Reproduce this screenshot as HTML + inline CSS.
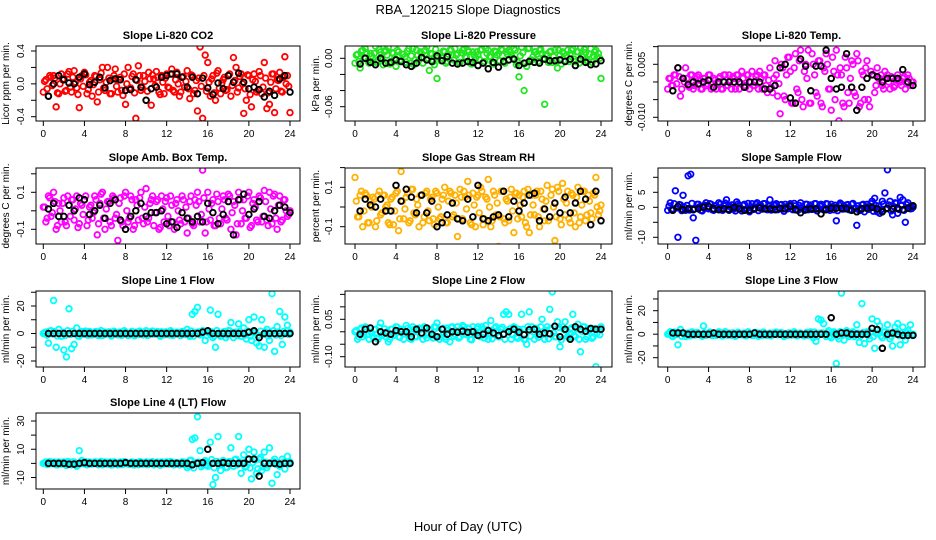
<!DOCTYPE html>
<html><head><meta charset="utf-8"><style>
html,body{margin:0;padding:0;background:#fff;}
svg{display:block;font-family:"Liberation Sans",sans-serif;}
</style></head><body>
<svg id="chart" width="936" height="540" viewBox="0 0 936 540">
<text x="468" y="14" text-anchor="middle" font-size="13">RBA_120215  Slope Diagnostics</text>
<text x="468" y="531" text-anchor="middle" font-size="13">Hour of Day (UTC)</text>
</svg>
<script>
const hoursColored=[0,0.25,0.5,0.75,1,1.25,1.5,1.75,2,2.25,2.5,2.75,3,3.25,3.5,3.75,4,4.25,4.5,4.75,5,5.25,5.5,5.75,6,6.25,6.5,6.75,7,7.25,7.5,7.75,8,8.25,8.5,8.75,9,9.25,9.5,9.75,10,10.25,10.5,10.75,11,11.25,11.5,11.75,12,12.25,12.5,12.75,13,13.25,13.5,13.75,14,14.25,14.5,14.75,15,15.25,15.5,15.75,16,16.25,16.5,16.75,17,17.25,17.5,17.75,18,18.25,18.5,18.75,19,19.25,19.5,19.75,20,20.25,20.5,20.75,21,21.25,21.5,21.75,22,22.25,22.5,22.75,23,23.25,23.5,23.75,24];
const hoursColoredB=[0.125,0.375,0.625,0.875,1.125,1.375,1.625,1.875,2.125,2.375,2.625,2.875,3.125,3.375,3.625,3.875,4.125,4.375,4.625,4.875,5.125,5.375,5.625,5.875,6.125,6.375,6.625,6.875,7.125,7.375,7.625,7.875,8.125,8.375,8.625,8.875,9.125,9.375,9.625,9.875,10.125,10.375,10.625,10.875,11.125,11.375,11.625,11.875,12.125,12.375,12.625,12.875,13.125,13.375,13.625,13.875,14.125,14.375,14.625,14.875,15.125,15.375,15.625,15.875,16.125,16.375,16.625,16.875,17.125,17.375,17.625,17.875,18.125,18.375,18.625,18.875,19.125,19.375,19.625,19.875,20.125,20.375,20.625,20.875,21.125,21.375,21.625,21.875,22.125,22.375,22.625,22.875,23.125,23.375,23.625,23.875];
const hoursBlack=[0.5,1,1.5,2,2.5,3,3.5,4,4.5,5,5.5,6,6.5,7,7.5,8,8.5,9,9.5,10,10.5,11,11.5,12,12.5,13,13.5,14,14.5,15,15.5,16,16.5,17,17.5,18,18.5,19,19.5,20,20.5,21,21.5,22,22.5,23,23.5,24];
const xTicks=[0,4,8,12,16,20,24];

const co2Vals=[-0.1,0.05,-0.15,0.08,0.1,-0.28,-0.12,0.12,0.06,-0.08,0.15,-0.1,0.16,-0.05,-0.29,0.1,0.14,-0.12,0.02,-0.15,0.1,-0.22,0.05,0.2,-0.08,0.2,-0.12,0.06,0.18,-0.1,0.08,-0.14,-0.25,0.2,-0.05,0.12,-0.42,0.22,-0.08,0.1,-0.2,0.14,-0.26,0.06,0.15,-0.1,0.1,-0.12,0.12,-0.05,0.18,-0.1,0.14,-0.15,0.08,-0.04,0.16,-0.18,0.1,-0.08,-0.33,0.45,-0.42,0.35,0.26,-0.15,0.1,-0.2,0.16,-0.12,0.05,-0.08,0.1,-0.15,0.32,0.2,-0.05,0.12,-0.36,-0.2,0.1,-0.28,0.12,-0.1,0.15,-0.12,0.26,-0.3,-0.25,0.12,-0.35,0.05,0.14,-0.1,0.33,0.1,-0.35];
const co2ValsB=[0.03,-0.06,0.1,-0.02,0.07,-0.11,0.0,0.05,-0.09,0.12,-0.04,0.08,0.02,-0.13,0.06,-0.03,0.11,-0.07,0.04,-0.01,0.09,-0.1,0.13,-0.05,0.02,0.07,-0.12,0.1,-0.03,0.05,-0.08,0.12,0.0,-0.06,0.09,-0.11,0.04,0.1,-0.05,0.03,-0.09,0.06,0.11,-0.02,0.08,-0.13,0.02,0.07,-0.04,0.12,-0.08,0.05,0.0,-0.1,0.09,0.03,-0.06,0.11,-0.12,0.04,0.07,-0.03,0.1,-0.09,0.02,0.06,-0.11,0.13,-0.05,0.01,0.08,-0.07,0.12,-0.02,0.04,-0.1,0.09,0.0,-0.06,0.11,-0.13,0.05,0.03,-0.08,0.1,-0.04,0.07,-0.11,0.02,0.12,-0.06,0.04,-0.09,0.08,0.0,-0.03];
const co2Black=[-0.15,0,0.1,0.05,0.01,0,0.08,0.12,-0.01,0.02,0.08,-0.05,0.04,0.06,0.05,-0.08,-0.07,0.05,-0.04,-0.2,-0.06,-0.04,0.08,0.1,0.12,0.12,0.08,-0.04,0.08,-0.12,0.07,-0.05,-0.13,0.01,-0.06,0.1,0.02,0.13,0.02,-0.06,-0.04,-0.07,-0.16,-0.09,-0.14,0.06,0.1,-0.1];

const presVals=[-0.006,0.005,-0.012,0.01,0.012,-0.003,0.006,-0.005,0.015,-0.002,0.008,-0.008,0.01,0.014,-0.004,0.006,-0.01,0.008,-0.002,0.005,-0.005,0.012,0.003,-0.008,0.01,-0.002,0.006,0.009,0.014,-0.015,0.005,-0.008,-0.025,0.006,0,0.008,-0.004,0.01,0.004,0.012,0.006,-0.005,0.01,0.002,0.01,-0.006,0.008,0,0.004,0.01,-0.005,0.012,0.01,0.002,-0.007,0.008,0.006,0.011,-0.003,0.008,0.01,0.004,0.012,-0.008,-0.023,0.014,-0.04,-0.01,0.013,-0.002,0.008,0.005,0.01,0.006,-0.057,0.003,0.008,-0.005,0.01,-0.012,0.004,0.008,-0.003,0.01,0.006,0.012,-0.004,0.008,0.013,0.002,0.007,-0.004,0.012,0.003,0.01,0.006,-0.025];
const presValsB=[0.004,-0.004,0.009,0.001,0.007,-0.006,0.003,0.006,-0.005,0.011,-0.002,0.008,0.004,-0.007,0.007,0.0,0.01,-0.004,0.005,0.002,0.009,-0.006,0.012,-0.002,0.004,0.008,-0.006,0.01,0.0,0.006,-0.004,0.011,0.003,-0.003,0.009,-0.006,0.005,0.01,-0.002,0.004,-0.005,0.007,0.011,0.001,0.008,-0.007,0.004,0.008,-0.001,0.011,-0.004,0.006,0.002,-0.005,0.009,0.004,-0.003,0.01,-0.006,0.005,0.008,0.0,0.01,-0.005,0.003,0.007,-0.006,0.012,-0.002,0.002,0.008,-0.004,0.011,0.0,0.005,-0.005,0.009,0.002,-0.003,0.01,-0.007,0.006,0.004,-0.004,0.01,-0.001,0.008,-0.006,0.003,0.011,-0.003,0.005,-0.005,0.008,0.002,0.0];
const presBlack=[-0.007,0,-0.005,-0.008,0,-0.006,-0.005,-0.002,-0.004,-0.008,-0.01,-0.006,0.001,-0.002,-0.004,0.003,-0.003,0.002,-0.006,-0.007,-0.006,-0.004,-0.005,-0.009,-0.006,-0.013,-0.005,-0.011,-0.004,-0.002,-0.001,-0.009,-0.006,-0.004,-0.005,-0.006,-0.001,-0.003,-0.003,-0.002,-0.004,-0.001,-0.009,-0.001,-0.005,-0.008,-0.007,-0.003];

const tempVals=[-0.002,0.001,-0.001,0.002,0.004,-0.004,0.001,0.004,-0.001,0.002,-0.002,0.001,0.002,-0.002,0.001,-0.001,0.002,-0.002,0.001,-0.002,0.001,-0.002,0.002,-0.001,0.002,-0.002,0.001,0.002,-0.002,0.003,-0.001,0.002,-0.002,0.003,-0.001,0.002,0.003,-0.002,0.002,-0.003,0.004,-0.003,0.006,-0.004,-0.009,0.004,-0.005,0.007,0.003,-0.006,0.008,-0.003,0.009,-0.007,0.005,0.009,-0.006,0.005,-0.003,0.006,-0.006,0.004,0.008,-0.002,-0.008,0.003,0.009,-0.011,0.002,-0.007,0.004,-0.006,0.006,-0.003,0.008,-0.007,0.003,-0.005,0.006,-0.007,0.002,-0.003,0.004,0.001,-0.001,0.003,0.002,-0.002,0.001,-0.001,0.002,0,0.001,-0.002,0.002,-0.001,0];
const tempValsB=[0.001,-0.001,0.002,-0.0005,0.0015,-0.002,0.0,0.001,-0.0015,0.002,-0.001,0.0015,0.0005,-0.002,0.001,-0.0005,0.002,-0.0015,0.0005,0.0,0.0015,-0.002,0.002,-0.001,0.0005,0.0015,-0.002,0.002,-0.0005,0.001,-0.0015,0.002,0.0,-0.001,0.0015,-0.002,0.001,0.002,-0.001,0.0005,-0.0015,0.001,0.002,-0.0005,0.005,-0.004,0.002,0.007,-0.006,0.004,-0.002,0.006,-0.005,0.003,0.001,-0.006,0.008,0.002,-0.004,0.006,-0.007,0.003,0.005,-0.002,0.007,-0.005,0.002,0.004,-0.006,0.007,-0.003,0.001,0.005,-0.004,0.006,-0.006,0.002,0.004,-0.005,0.003,0.002,-0.001,0.001,0.002,-0.002,0.001,0.0,0.0015,-0.0015,0.001,0.0005,-0.001,0.0015,-0.0005,0.001,0.0];
const tempBlack=[-0.0025,0.004,0.001,-0.0007,0,-0.0005,0,0.0005,-0.0015,0,0,0,0,0,-0.0015,0,0,0,-0.002,-0.002,-0.001,0.004,0.005,-0.0045,-0.006,0.0065,0.0045,-0.0025,0.0045,0.0045,0.009,0.001,-0.002,-0.0015,0.008,-0.0015,-0.008,-0.0015,0.001,0.002,0.0015,0,0.001,0.001,0.001,0.0035,0,-0.001];

const boxVals=[0.02,-0.06,0.08,-0.03,0.1,-0.1,0.04,-0.06,0.07,-0.08,0.03,0.06,-0.05,0.08,-0.07,0.03,0.06,-0.08,0.02,-0.04,0.08,-0.13,0.04,0.1,-0.1,0.05,-0.06,0.08,-0.04,-0.16,0.07,-0.08,0.1,-0.06,0.08,-0.1,0.06,-0.05,0.1,-0.07,0.12,-0.04,0.06,-0.08,0.05,-0.1,0.08,-0.06,0.07,-0.08,0.03,-0.1,0.06,-0.05,0.08,-0.06,-0.12,0.05,-0.07,0.06,0.1,-0.06,0.22,-0.12,0.1,-0.05,0.06,-0.08,0.05,-0.07,0.08,-0.04,0.09,-0.1,0.05,-0.13,0.1,-0.07,0.06,-0.04,0.1,-0.08,0.06,-0.05,0.08,-0.06,0.11,-0.05,0.1,-0.07,0.09,-0.1,0.08,-0.05,0.06,-0.03,0];
const boxValsB=[0.02,-0.04,0.07,-0.01,0.05,-0.08,0.0,0.04,-0.06,0.08,-0.03,0.06,0.01,-0.09,0.04,-0.02,0.08,-0.05,0.03,-0.01,0.06,-0.07,0.09,-0.04,0.01,0.05,-0.08,0.07,-0.02,0.04,-0.06,0.08,0.0,-0.04,0.06,-0.08,0.03,0.07,-0.04,0.02,-0.06,0.04,0.08,-0.01,0.06,-0.09,0.01,0.05,-0.03,0.08,-0.06,0.04,0.0,-0.07,0.06,0.02,-0.04,0.08,-0.08,0.03,0.05,-0.02,0.07,-0.06,0.01,0.04,-0.08,0.09,-0.04,0.01,0.06,-0.05,0.08,-0.01,0.03,-0.07,0.06,0.0,-0.04,0.08,-0.09,0.04,0.02,-0.06,0.07,-0.03,0.05,-0.08,0.01,0.08,-0.04,0.03,-0.06,0.06,0.0,-0.02];
const boxBlack=[0.01,0.04,-0.03,-0.03,0.03,0,0.07,0.06,-0.02,0,0.03,-0.04,0.04,0.06,-0.05,-0.1,-0.03,0,0.04,-0.03,-0.01,-0.01,0,-0.07,-0.06,-0.09,-0.01,-0.04,-0.06,-0.03,-0.06,0.04,-0.01,-0.07,-0.02,0.05,-0.13,0.06,0.09,-0.02,0.01,0.05,-0.03,-0.04,0,0.03,0.02,-0.01];

const rhVals=[0.15,-0.05,0.06,-0.1,0.07,-0.08,0.03,0.05,-0.1,0.06,-0.04,0.06,0,-0.08,0.04,-0.09,0.07,-0.12,0.18,-0.06,0.05,-0.08,0.09,-0.03,0.04,-0.1,0.06,-0.05,0.08,-0.07,0.05,-0.09,0.07,-0.06,0.04,0.1,-0.08,0.08,-0.05,0.06,-0.15,0.09,-0.06,0.05,0.13,-0.08,0.07,-0.1,0.06,0.1,-0.09,0.05,0.14,-0.1,0.08,-0.04,-0.2,0.08,-0.06,0.04,-0.07,0.09,-0.13,0.07,0.06,-0.05,0.08,-0.1,-0.13,0.06,-0.04,0.08,-0.1,0.04,-0.07,0.11,-0.05,0.09,-0.17,0.1,-0.06,0.12,-0.04,0.08,-0.08,0.06,-0.1,0.1,-0.05,0.08,-0.07,0.06,-0.03,0.07,0.15,-0.04,0.01];
const rhValsB=[0.03,-0.05,0.08,-0.02,0.06,-0.08,0.0,0.04,-0.07,0.08,-0.03,0.06,0.01,-0.09,0.05,-0.02,0.08,-0.06,0.03,-0.01,0.07,-0.07,0.09,-0.04,0.01,0.06,-0.08,0.07,-0.02,0.04,-0.06,0.08,0.0,-0.05,0.06,-0.08,0.03,0.07,-0.04,0.02,-0.06,0.05,0.08,-0.01,0.06,-0.09,0.01,0.05,-0.03,0.08,-0.06,0.04,0.0,-0.07,0.06,0.02,-0.05,0.08,-0.08,0.03,0.05,-0.02,0.07,-0.06,0.01,0.05,-0.08,0.09,-0.04,0.01,0.06,-0.05,0.08,-0.01,0.03,-0.07,0.06,0.0,-0.05,0.08,-0.09,0.04,0.02,-0.06,0.07,-0.03,0.05,-0.08,0.01,0.08,-0.04,0.03,-0.06,0.06,0.0,-0.02];
const rhBlack=[-0.02,0.04,0.01,0,0.04,-0.02,-0.02,0.11,0.03,0.09,0.05,-0.03,0.06,-0.03,0.03,-0.1,-0.08,-0.04,0.02,-0.06,-0.07,0.04,-0.05,0.11,-0.06,-0.07,-0.05,-0.04,0.08,-0.05,0.03,-0.02,0.02,0.06,0.07,-0.07,-0.01,-0.05,0.02,-0.03,0.05,-0.03,0.02,0.08,0.04,-0.09,0.08,-0.07];

const sampleVals=[-1,1.5,-0.5,5.5,-10,0.8,4,-1,10.5,11,-3.5,-11,1,-1,0.5,1.5,-0.5,1,-1,0.5,1.5,-0.8,0.5,2.5,-1,0.8,-0.5,1.8,0.6,-1.2,1,-0.5,-1.5,1.2,-0.3,1.5,0.8,-0.6,1.2,-0.8,2.5,-0.5,1,-0.8,0.8,-0.6,1,-0.5,1.2,-0.8,0.5,-1,1.5,-0.5,1,-0.8,0.8,-0.6,1.2,-0.4,1,-0.8,1.2,-0.5,1,-0.8,-4.5,0.8,1,-0.5,0.8,-0.8,1,-0.5,-6,-1,0.8,-1.5,1,-0.5,2,3,-1.5,-2,2,4.8,12.5,2,-2.5,1.5,-2,3.3,2.5,-5,1.5,-0.5,0];
const sampleValsB=[0.4,-0.8,1.2,-0.2,0.9,-1.1,0.0,0.6,-0.9,1.3,-0.5,1.0,0.2,-1.2,0.7,-0.3,1.2,-0.8,0.5,-0.1,1.0,-1.0,1.4,-0.6,0.2,0.8,-1.2,1.1,-0.3,0.6,-0.9,1.3,0.0,-0.7,1.0,-1.1,0.5,1.2,-0.6,0.3,-0.9,0.7,1.2,-0.2,0.9,-1.3,0.2,0.8,-0.5,1.3,-0.9,0.6,0.0,-1.0,1.0,0.3,-0.7,1.2,-1.2,0.5,0.8,-0.3,1.1,-1.0,0.2,0.7,-1.1,1.4,-0.6,0.1,0.9,-0.8,1.3,-0.2,0.5,-1.0,1.0,0.0,-0.7,1.2,-1.3,0.6,0.4,-0.9,1.1,-0.5,0.8,-1.2,0.2,1.3,-0.7,0.5,-1.0,0.9,0.0,-0.4];
const sampleBlack=[-1,0.3,-0.8,-0.5,-0.8,-0.5,0,0.3,-0.5,-0.8,-0.5,-0.8,0,-0.5,-1,-1,-0.5,-0.2,-0.5,-0.5,-0.8,-0.3,-0.5,0.3,-0.8,-1.8,-0.8,-0.5,-0.5,-2.2,-0.8,-0.3,-0.3,-0.3,-0.5,-1,-1.5,-0.5,-0.3,0,-0.5,-1.5,-0.3,-0.5,-0.3,-0.8,-0.3,0.5];

const line1Vals=[0,1,-7,2,24,-10,3,-2,-12,-17,18,-11,-8,4,-2,1.5,1,-1,1.5,-1,1,-1,0.8,-1.5,1,-0.5,1,-1,0.8,-1,1,-0.5,1,-1.5,0.5,-0.8,1,-0.8,1,-1,2,-1,0.8,-0.5,1,-0.8,1.2,-1,0.8,-1,1,-0.5,1,-1,1.5,-0.8,3,-2,14,16,19,-1,2,-5,1,17,-3,-10,14,-2,1,-3,2,8,-3,1,7,-2,4,-4,10,-5,12,-7,-9,10,-10,3,-5,29,-13,5,16,-8,12,6,1];
const line1ValsB=[0.6,-1.2,1.8,-0.3,1.4,-1.7,0.0,0.9,-1.4,2.0,-0.8,1.5,0.3,-1.8,1.1,-0.5,1.8,-1.2,0.8,-0.2,1.5,-1.5,2.1,-0.9,0.3,1.2,-1.8,1.7,-0.5,0.9,-1.4,2.0,0.0,-1.1,1.5,-1.7,0.8,1.8,-0.9,0.5,-1.4,1.1,1.8,-0.3,1.4,-2.0,0.3,1.2,-0.8,2.0,-1.4,0.9,0.0,-1.5,1.5,0.5,-1.1,1.8,-1.8,0.8,1.2,-0.5,1.7,-1.5,0.3,1.1,-1.7,2.1,-0.9,0.2,1.4,-1.2,2.0,-0.3,0.8,-1.5,1.5,0.0,-1.1,1.8,-2.0,0.9,0.6,-1.4,1.7,-0.8,1.2,-1.8,0.3,2.0,-1.1,0.8,-1.5,1.4,0.0,-0.6];
const line1Black=[0,0,0,0,0,0,0,0,0,0,0,0,0,0,0,0,0,0,0,0,0,0,0,0,0,0,0,0,0,0,1,2,0,0,0,0,0,0,0,1,2,-3,0,0,0,0,0,0];

const line2Vals=[0,-0.03,0.01,-0.02,0.02,-0.01,0.015,-0.02,0.01,-0.03,0.035,-0.01,-0.02,-0.04,0.01,-0.015,0.02,-0.02,0.01,-0.03,0.025,-0.01,-0.03,0.01,-0.02,0.015,-0.01,0.02,-0.025,0.01,-0.015,0.02,0.035,-0.03,0.01,-0.02,0.015,-0.04,0.02,-0.01,0.02,-0.02,0.025,-0.01,0.015,-0.03,0.02,-0.01,0.02,-0.02,0.01,0.025,-0.03,0.045,-0.01,0.02,-0.02,0.01,0.07,0.08,0.07,-0.03,0.02,-0.02,0.01,0.07,-0.03,-0.05,0.08,0.02,-0.03,0.01,-0.02,0.05,-0.03,0.02,0.09,0.16,-0.02,0.04,-0.06,0.02,0.04,-0.02,0.01,0.07,-0.02,0.03,-0.08,0.02,-0.03,0.01,0.015,-0.02,-0.14,0.01,0.02];
const line2ValsB=[0.005,-0.02,0.015,-0.01,0.01,-0.03,-0.005,0.008,-0.025,0.018,-0.015,0.012,0.0,-0.03,0.01,-0.012,0.018,-0.022,0.005,-0.008,0.014,-0.028,0.02,-0.018,0.002,0.01,-0.03,0.016,-0.012,0.008,-0.025,0.02,-0.005,-0.02,0.014,-0.03,0.006,0.018,-0.018,0.004,-0.025,0.01,0.02,-0.01,0.012,-0.032,0.002,0.012,-0.015,0.02,-0.025,0.008,-0.005,-0.028,0.014,0.004,-0.02,0.018,-0.03,0.006,0.012,-0.012,0.016,-0.026,0.002,0.01,-0.03,0.02,-0.018,0.0,0.014,-0.022,0.02,-0.01,0.006,-0.028,0.014,-0.005,-0.02,0.018,-0.032,0.008,0.004,-0.025,0.016,-0.015,0.012,-0.03,0.002,0.02,-0.02,0.006,-0.026,0.012,-0.005,-0.012];
const line2Black=[-0.01,0.01,0.015,-0.04,0,-0.005,-0.01,0.005,0,0,-0.02,0.01,-0.005,0.015,-0.01,-0.02,0.01,-0.01,0,-0.002,0.002,-0.002,0,-0.015,-0.01,0.005,-0.005,-0.015,-0.01,0,0.01,-0.002,-0.012,0.008,0.01,-0.01,-0.005,-0.008,0.022,-0.02,0.01,-0.03,0.02,0.01,0.002,0.013,0.01,0.01];

const line3Vals=[0,2,-2,1,-9,4,1,-2,1,-1,1.5,-0.5,1,-1,7,-1,1,-0.5,1,-1,2,-1,1,-0.5,1,-1,0.5,-1,1,-0.5,1,-1,0.5,-1,1.5,-0.5,1,-1,0.5,-1,1,-0.5,1,-0.5,1,-1,0.5,-1,1,-0.5,1,-1,1,-1,0.5,-1,2,-3,-6,13,12,9,-2,3,-3,2,-25,-4,35,-5,3,-2,1,-2,8,-7,26,-8,2,-4,13,-12,11,7,-3,2,8,-4,-10,6,9,-9,6,-5,3,8,0];
const line3ValsB=[0.6,-1.2,1.8,-0.3,1.4,-1.7,0.0,0.9,-1.4,2.0,-0.8,1.5,0.3,-1.8,1.1,-0.5,1.8,-1.2,0.8,-0.2,1.5,-1.5,2.1,-0.9,0.3,1.2,-1.8,1.7,-0.5,0.9,-1.4,2.0,0.0,-1.1,1.5,-1.7,0.8,1.8,-0.9,0.5,-1.4,1.1,1.8,-0.3,1.4,-2.0,0.3,1.2,-0.8,2.0,-1.4,0.9,0.0,-1.5,1.5,0.5,-1.1,1.8,-1.8,0.8,1.2,-0.5,1.7,-1.5,0.3,1.1,-1.7,2.1,-0.9,0.2,1.4,-1.2,2.0,-0.3,0.8,-1.5,1.5,0.0,-1.1,1.8,-2.0,0.9,0.6,-1.4,1.7,-0.8,1.2,-1.8,0.3,2.0,-1.1,0.8,-1.5,1.4,0.0,-0.6];
const line3Black=[1,1,1,0,0,0,0,0,1,0,0,0,0,0,0,0,1,0,0,0,0,0,0,0,0,0,0,0,0,0,0,14,0,1,1,0,0,0,0,5,4,-12,0,1,0,-1,-1,-1];

const line4Vals=[0,1,-0.5,1,0.5,-1,1,-0.5,1,-1.5,1,-1,1,-2,9,2,0.5,-1,1,-0.5,1,-0.5,0.5,-1,1,-0.5,1,-1,0.5,-1,1,-0.5,1,-0.5,0.5,-1,0.5,-1,1,-0.5,1,-0.5,0.5,-1,0.5,-1,1,-0.5,1,-0.5,0.5,-1,0.5,-1,1,-1,-3,2,17,18,33,9,-1,2,-2,15,-15,-10,19,-5,2,-3,1,11,-2,3,19,-7,6,-2,10,-11,8,-7,3,-5,8,-3,11,-14,3,-8,-2,3,-4,5,1];
const line4ValsB=[0.4,-0.8,1.2,-0.2,0.9,-1.1,0.0,0.6,-0.9,1.3,-0.5,1.0,0.2,-1.2,0.7,-0.3,1.2,-0.8,0.5,-0.1,1.0,-1.0,1.4,-0.6,0.2,0.8,-1.2,1.1,-0.3,0.6,-0.9,1.3,0.0,-0.7,1.0,-1.1,0.5,1.2,-0.6,0.3,-0.9,0.7,1.2,-0.2,0.9,-1.3,0.2,0.8,-0.5,1.3,-0.9,0.6,0.0,-1.0,1.0,0.3,-1.5,2.2,-3.2,0.5,0.8,-2.3,1.1,-1.0,0.2,2.7,-3.1,1.4,-0.6,0.1,0.9,-2.8,1.3,-0.2,2.5,-1.0,1.0,0.0,-2.7,3.2,-3.3,0.6,2.4,-3.9,4.1,-2.5,0.8,-1.2,0.2,1.3,-0.7,0.5,-1.0,0.9,0.0,-0.4];
const line4Black=[0,0,0,0,-0.5,-0.5,0,0.5,0,0,0,0,0,0,0,0.5,0,0,0,0,0,0,0,0,0,0,0,0,-1,0,0.5,10,0,0,0.5,0,0,0,0,3,3,-9,0,0,0,-0.5,0,0];

const panelTitles=["Slope Li-820 CO2","Slope Li-820 Pressure","Slope Li-820 Temp.","Slope Amb. Box Temp.","Slope Gas Stream RH","Slope Sample Flow","Slope Line 1 Flow","Slope Line 2 Flow","Slope Line 3 Flow","Slope Line 4 (LT) Flow"];
const yTitles=["Licor ppm per min.","kPa per min.","degrees C per min.","degrees C per min.","percent per min.","ml/min per min.","ml/min per min.","ml/min per min.","ml/min per min.","ml/min per min."];
const yTickVals=[[-0.4,-0.2,0,0.2,0.4],[0,-0.02,-0.04,-0.06],[0.01,0.005,0,-0.005,-0.01],[0.2,0.1,0,-0.1],[0.2,0.1,0,-0.1],[10,5,0,-5,-10],[30,20,10,0,-10,-20],[0.15,0.1,0.05,0,-0.05,-0.1],[30,20,10,0,-10,-20],[30,20,10,0,-10]];
const yLabelVals=[[0.4,0,-0.4],[0,-0.06],[0.005,-0.01],[0.1,-0.1],[0.1,-0.1],[5,0,-10],[20,0,-20],[0.05,-0.1],[20,0,-20],[30,10,-10]];
const yLabelText=[["0.4","0.0","-0.4"],["0.00","-0.06"],["0.005","-0.010"],["0.1","-0.1"],["0.1","-0.1"],["5","0","-10"],["20","0","-20"],["0.05","-0.10"],["20","0","-20"],["30","10","-10"]];
const coloredSeries=[co2Vals,presVals,tempVals,boxVals,rhVals,sampleVals,line1Vals,line2Vals,line3Vals,line4Vals];
const coloredSeriesB=[co2ValsB,presValsB,tempValsB,boxValsB,rhValsB,sampleValsB,line1ValsB,line2ValsB,line3ValsB,line4ValsB];
const blackSeries=[co2Black,presBlack,tempBlack,boxBlack,rhBlack,sampleBlack,line1Black,line2Black,line3Black,line4Black];
const colors=["#ff0000","#22e622","#ff00ff","#ff00ff","#ffb000","#0000ff","#00ffff","#00ffff","#00ffff","#00ffff"];

const cols=[{x0:43.3,x24:290,l:36,r:300,tl:24,tt:9},{x0:355,x24:601,l:345,r:612,tl:332,tt:319},{x0:667.7,x24:913,l:658,r:925,tl:645,tt:632}];
const rows=[{t:46,b:121},{t:168,b:244},{t:291,b:367},{t:413,b:489}];
const yRefs=[[0.4,51,-0.4,116.7],[0,58.3,-0.06,106.7],[0.005,64.3,-0.01,117.3],[0.1,192.3,-0.1,229.3],[0.1,187.3,-0.1,226.7],[5,192.3,-10,237.3],[20,306,-20,361],[0.05,319.3,-0.1,356.7],[20,310.7,-20,357.7],[30,421,-10,477.5]];

const NS="http://www.w3.org/2000/svg";
const svg=document.getElementById('chart');
function mk(tag,attrs,parent){const e=document.createElementNS(NS,tag);for(const k in attrs)e.setAttribute(k,attrs[k]);(parent||svg).appendChild(e);return e;}

for(let p=0;p<10;p++){
  const c=cols[p%3], r=rows[Math.floor(p/3)];
  const ref=yRefs[p];
  const xs=h=>c.x0+(c.x24-c.x0)*h/24;
  const ys=v=>ref[1]+(v-ref[0])*(ref[3]-ref[1])/(ref[2]-ref[0]);
  const g=mk('g',{});
  
  
  const clipId='clip'+p;
  const cp=mk('clipPath',{id:clipId},g);
  mk('rect',{x:c.l,y:r.t,width:c.r-c.l,height:r.b-r.t},cp);
  const title=mk('text',{x:(c.l+c.r)/2,y:r.t-7,'text-anchor':'middle','font-size':11,'font-weight':'bold'},g);
  title.textContent=panelTitles[p];
  
  
  const pts=mk('g',{'clip-path':'url(#'+clipId+')'},g);
  
  
  coloredSeriesB[p].forEach((v,i)=>{
    const ci=mk('circle',{cx:xs(hoursColoredB[i]),cy:ys(v),r:2.8,fill:'none',stroke:colors[p],'stroke-width':1.8},pts);
    
    
  });
  coloredSeries[p].forEach((v,i)=>{
    const ci=mk('circle',{cx:xs(hoursColored[i]),cy:ys(v),r:2.8,fill:'none',stroke:colors[p],'stroke-width':1.8},pts);
    
    
  });
  const bpts=mk('g',{'clip-path':'url(#'+clipId+')'},g);
  
  
  blackSeries[p].forEach((v,i)=>{
    const ci=mk('circle',{cx:xs(hoursBlack[i]),cy:ys(v),r:2.8,fill:'none',stroke:'#000','stroke-width':1.9},bpts);
    
    
  });
  const box=mk('rect',{x:c.l,y:r.t,width:c.r-c.l,height:r.b-r.t,fill:'none',stroke:'#000','stroke-width':1},g);
  
  
  const xa=mk('g',{},g);
  
  
  mk('line',{x1:xs(0),x2:xs(24),y1:r.b,y2:r.b,stroke:'#000'},xa);
  xTicks.forEach(t=>{
    mk('line',{x1:xs(t),x2:xs(t),y1:r.b,y2:r.b+5,stroke:'#000'},xa);
    const tx=mk('text',{x:xs(t),y:r.b+16,'text-anchor':'middle','font-size':10},xa);
    tx.textContent=t;
    
    
  });
  const ya=mk('g',{},g);
  
  
  const tv=yTickVals[p];
  mk('line',{x1:c.l,x2:c.l,y1:ys(Math.min(...tv)),y2:ys(Math.max(...tv)),stroke:'#000'},ya);
  tv.forEach(t=>{mk('line',{x1:c.l-5,x2:c.l,y1:ys(t),y2:ys(t),stroke:'#000'},ya);});
  yLabelVals[p].forEach((t,i)=>{
    const y=ys(t);
    const tx=mk('text',{x:c.tl,y:y,'text-anchor':'middle','font-size':10,transform:'rotate(-90 '+c.tl+' '+y+')'},ya);
    tx.textContent=yLabelText[p][i];
    
    
  });
  const my=(r.t+r.b)/2;
  const yt=mk('text',{x:c.tt,y:my,'text-anchor':'middle','font-size':10,transform:'rotate(-90 '+c.tt+' '+my+')'},g);
  yt.textContent=yTitles[p];
  
  
}
</script>
</body></html>
